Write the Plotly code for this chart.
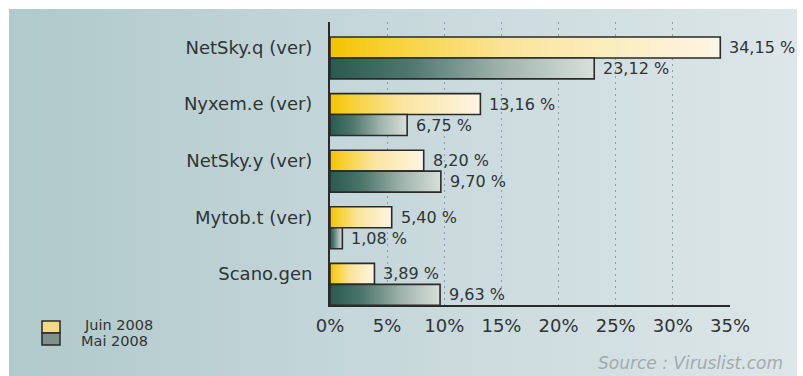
import base64
import plotly.graph_objects as go

# Top 5 malicious programs in spam, June vs May 2008 (share of all malware, %)
categories = ["NetSky.q (ver)", "Nyxem.e (ver)", "NetSky.y (ver)", "Mytob.t (ver)", "Scano.gen"]
juin_2008 = [34.15, 13.16, 8.20, 5.40, 3.89]
mai_2008 = [23.12, 6.75, 9.70, 1.08, 9.63]
x_ticks = [0, 5, 10, 15, 20, 25, 30, 35]
series_names = ["Juin 2008", "Mai 2008"]
source_text = "Source : Viruslist.com"

W, H = 803, 376
FONT = "DejaVu Sans"
TEXT = "#303434"


def px(x):
    return x / W


def py(y):
    return 1 - y / H


# bar geometry inside each category band (band = 1 unit on the y axis)
BAR_H = 0.37
OFFSETS = [0.45, 0.82]
GRADIENTS = [
    [[0, "#f4c200"], [0.12, "#f7cf2c"], [0.45, "#fae49a"], [1, "#fdf5e4"]],
    [[0, "#285a4d"], [0.3, "#4f776c"], [0.65, "#9fb3ac"], [1, "#d9e0dc"]],
]


def bar_trace(value, center, colorscale, name):
    y0, y1 = center - BAR_H / 2, center + BAR_H / 2
    return go.Scatter(
        x=[0, value, value, 0, 0],
        y=[y0, y0, y1, y1, y0],
        mode="lines",
        fill="toself",
        fillgradient=dict(type="horizontal", colorscale=colorscale),
        line=dict(color="#2a2a2a", width=1.6),
        name=name,
        showlegend=False,
        hoverinfo="skip",
        xaxis="x",
        yaxis="y",
    )


fig = go.Figure()
annotations = []
for s, values in enumerate([juin_2008, mai_2008]):
    for i, v in enumerate(values):
        c = i + OFFSETS[s]
        fig.add_trace(bar_trace(v, c, GRADIENTS[s], series_names[s]))
        annotations.append(dict(
            x=v, y=c, xref="x", yref="y",
            text=f"{v:.2f}".replace(".", ",") + " %",
            showarrow=False, xanchor="left", yanchor="middle", xshift=7,
            font=dict(family=FONT, size=16, color=TEXT),
        ))

# source line
annotations.append(dict(
    x=px(785), y=py(363), xref="paper", yref="paper",
    text=source_text, showarrow=False, xanchor="right", yanchor="middle",
    font=dict(family=FONT, size=17, color="#a2aaad", style="italic"),
))

# legend swatches and labels
shapes = []
legend_rows = [(321, 333, "#f3da7e", 82, 325), (333, 345, "#7d928d", 79, 341)]
for (y0, y1, color, tx, ty), name in zip(legend_rows, series_names):
    shapes.append(dict(
        type="rect", xref="paper", yref="paper",
        x0=px(42), x1=px(60), y0=py(y1), y1=py(y0),
        fillcolor=color, line=dict(color="#2a2a2a", width=1.5), layer="above",
    ))
    annotations.append(dict(
        x=px(tx), y=py(ty), xref="paper", yref="paper",
        text=name, showarrow=False, xanchor="left", yanchor="middle",
        font=dict(family=FONT, size=14.5, color=TEXT),
    ))

# soft left-to-right background wash
svg = (
    '<svg xmlns="http://www.w3.org/2000/svg" viewBox="0 0 100 100" '
    'width="100" height="100" preserveAspectRatio="none">'
    '<defs><linearGradient id="g" x1="0" y1="0" x2="1" y2="0">'
    '<stop offset="0" stop-color="#b0c9ca"/>'
    '<stop offset="0.45" stop-color="#c5d7da"/>'
    '<stop offset="1" stop-color="#dde6e8"/>'
    '</linearGradient></defs>'
    '<rect width="100" height="100" fill="url(#g)"/></svg>'
)
bg_uri = "data:image/svg+xml;base64," + base64.b64encode(svg.encode()).decode()

fig.update_layout(
    width=W, height=H, autosize=False,
    margin=dict(l=0, r=0, t=0, b=0, pad=0),
    paper_bgcolor="white",
    plot_bgcolor="rgba(0,0,0,0)",
    showlegend=False,
    images=[dict(
        source=bg_uri, xref="paper", yref="paper",
        x=px(9), y=py(9), sizex=px(797) - px(9), sizey=py(9) - py(376),
        xanchor="left", yanchor="top", sizing="stretch", layer="below",
    )],
    xaxis=dict(
        domain=[px(330), px(730)], range=[0, 35],
        tickvals=x_ticks, ticktext=[f"{t}%" for t in x_ticks],
        tickfont=dict(family=FONT, size=18, color=TEXT),
        ticks="", ticklabelstandoff=4, automargin=False,
        showgrid=True, gridcolor="#86a0a8", gridwidth=1, griddash="2px,4px",
        zeroline=False, showline=True, linecolor="#2a2a2a", linewidth=1.5,
        fixedrange=True,
    ),
    yaxis=dict(
        domain=[py(305), py(22)], range=[5, 0],
        tickvals=[i + OFFSETS[0] for i in range(len(categories))],
        ticktext=categories,
        tickfont=dict(family=FONT, size=18, color=TEXT),
        ticks="", ticklabelstandoff=12, automargin=False,
        showgrid=False, zeroline=False,
        showline=True, linecolor="#2a2a2a", linewidth=2,
        fixedrange=True,
    ),
    annotations=annotations,
    shapes=shapes,
)

fig.write_html("out.html", config={"responsive": False})
